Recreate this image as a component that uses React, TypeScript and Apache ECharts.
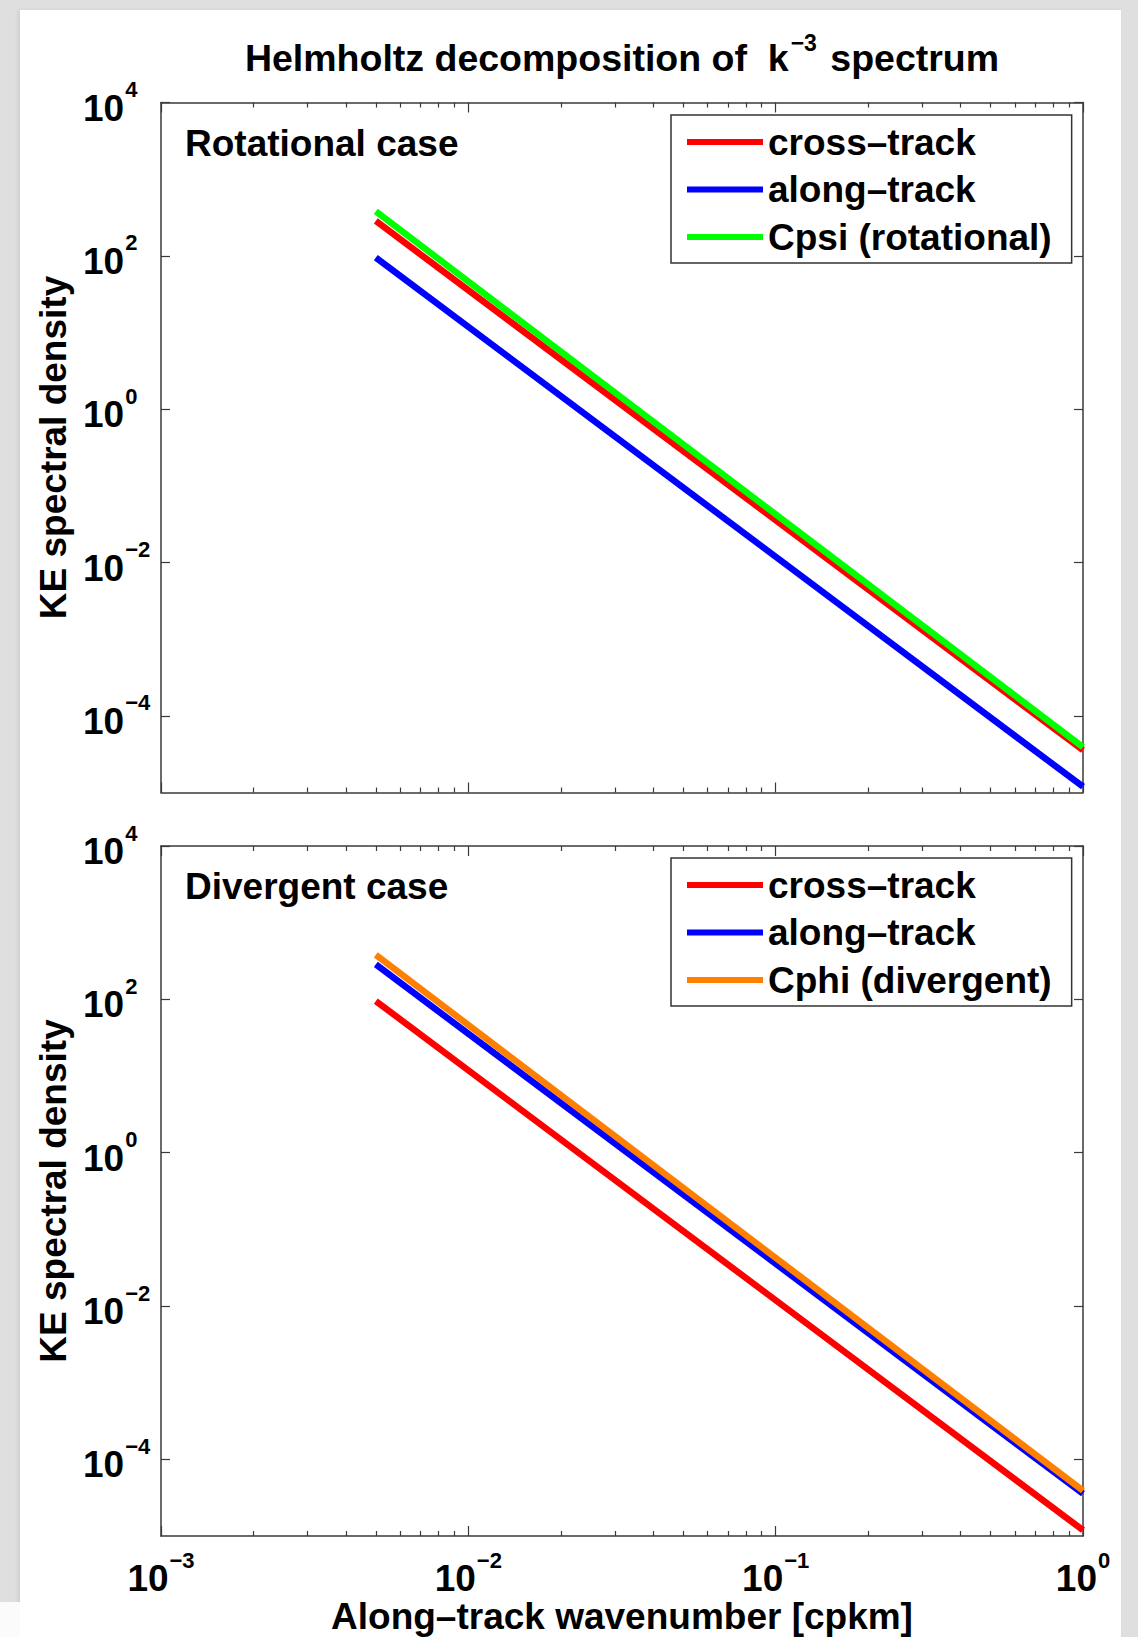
import React, { useEffect, useRef } from 'react';
import * as echarts from 'echarts';

// ---- data ----
const wavenumber = [0.005, 1];
const rotCrossTrack = [285, 3.56e-5];
const rotAlongTrack = [95, 1.19e-5];
const rotCpsi = [380, 3.9e-5];
const divCrossTrack = [95, 1.19e-5];
const divAlongTrack = [285, 3.56e-5];
const divCphi = [380, 3.9e-5];

const xMajorTicks = [0.001, 0.01, 0.1, 1];
const xMinorTicks = [
  0.002, 0.003, 0.004, 0.005, 0.006, 0.007, 0.008, 0.009,
  0.02, 0.03, 0.04, 0.05, 0.06, 0.07, 0.08, 0.09,
  0.2, 0.3, 0.4, 0.5, 0.6, 0.7, 0.8, 0.9,
];
const yMajorTicks = [1e-4, 1e-2, 1, 1e2, 1e4];

const rotLegend = ['cross–track', 'along–track', 'Cpsi (rotational)'];
const divLegend = ['cross–track', 'along–track', 'Cphi (divergent)'];

const FONT = '"Liberation Sans", Arial, Helvetica, sans-serif';
const AXIS = '#3a3a3a';

const supLabel = (v: number) => {
  const e = Math.round(Math.log10(v));
  return `{b|10}{s|${e < 0 ? '−' + -e : e}}`;
};

const labelRich = {
  b: { fontSize: 37, fontWeight: 'bold', fontFamily: FONT, lineHeight: 48, verticalAlign: 'bottom', color: '#000' },
  s: { fontSize: 22, fontWeight: 'bold', fontFamily: FONT, lineHeight: 22, verticalAlign: 'top', color: '#000', padding: [0, 0, 0, 1] },
};

const nameStyle = {
  fontSize: 37,
  fontWeight: 'bold',
  fontFamily: FONT,
  color: '#000',
  verticalAlign: 'middle',
  align: 'center',
};

function xAxisDef(gridIndex: number, position: string, ticks: number[], tickLen: number, showLine: boolean, labels: boolean, name?: string) {
  const ax: any = {
    type: 'log',
    logBase: 10,
    gridIndex,
    position,
    min: 0.001,
    max: 1,
    axisLine: { show: showLine, onZero: false, lineStyle: { color: AXIS, width: 1.5 } },
    axisTick: { show: true, inside: true, length: tickLen, customValues: ticks, lineStyle: { color: AXIS, width: 1.2 } },
    axisLabel: labels
      ? { show: true, customValues: ticks, formatter: supLabel, rich: labelRich, margin: 13 }
      : { show: false },
    splitLine: { show: false },
    minorTick: { show: false },
    minorSplitLine: { show: false },
  };
  if (name) {
    ax.name = name;
    ax.nameLocation = 'middle';
    ax.nameGap = 77;
    ax.nameTextStyle = nameStyle;
  }
  return ax;
}

function yAxisDef(gridIndex: number, position: string, labels: boolean, name?: string) {
  const ax: any = {
    type: 'log',
    logBase: 10,
    gridIndex,
    position,
    min: 1e-5,
    max: 1e4,
    axisLine: { show: true, onZero: false, lineStyle: { color: AXIS, width: 1.5 } },
    axisTick: { show: true, inside: true, length: 9, customValues: yMajorTicks, lineStyle: { color: AXIS, width: 1.2 } },
    axisLabel: labels
      ? { show: true, customValues: yMajorTicks, formatter: supLabel, rich: labelRich, margin: 78, align: 'left' }
      : { show: false },
    splitLine: { show: false },
    minorTick: { show: false },
    minorSplitLine: { show: false },
  };
  if (name) {
    ax.name = name;
    ax.nameLocation = 'middle';
    ax.nameGap = 107;
    ax.nameRotate = 90;
    ax.nameTextStyle = nameStyle;
  }
  return ax;
}

function lineSeries(name: string, values: number[], color: string, xAxisIndex: number, yAxisIndex: number) {
  return {
    type: 'line',
    name,
    xAxisIndex,
    yAxisIndex,
    data: wavenumber.map((k, i) => [k, values[i]]),
    symbol: 'none',
    color,
    lineStyle: { width: 6.5, color },
    itemStyle: { color },
  };
}

function legendDef(data: string[], top: number) {
  return {
    data,
    orient: 'vertical',
    left: 671,
    top,
    icon: 'rect',
    itemWidth: 76,
    itemHeight: 6,
    itemGap: 7.5,
    padding: [7, 20, 6, 16],
    borderColor: '#333',
    borderWidth: 1.5,
    borderRadius: 0,
    backgroundColor: '#fff',
    selectedMode: false,
    textStyle: { fontSize: 37, fontWeight: 'bold', fontFamily: FONT, color: '#000', lineHeight: 40 },
  };
}

export default function App() {
  const ref = useRef<HTMLDivElement>(null);

  useEffect(() => {
    if (!ref.current) return;
    const chart = echarts.init(ref.current, null, { renderer: 'svg' });
    const option: any = {
      animation: false,
      backgroundColor: 'transparent',
      grid: [
        { left: 161, top: 102.5, width: 922, height: 690, outerBoundsMode: 'none', containLabel: false },
        { left: 161, top: 846, width: 922, height: 690, outerBoundsMode: 'none', containLabel: false },
      ],
      xAxis: [
        xAxisDef(0, 'bottom', xMajorTicks, 10, true, false),
        xAxisDef(0, 'bottom', xMinorTicks, 5, false, false),
        xAxisDef(0, 'top', xMajorTicks, 10, true, false),
        xAxisDef(0, 'top', xMinorTicks, 5, false, false),
        xAxisDef(1, 'bottom', xMajorTicks, 10, true, true, 'Along–track wavenumber [cpkm]'),
        xAxisDef(1, 'bottom', xMinorTicks, 5, false, false),
        xAxisDef(1, 'top', xMajorTicks, 10, true, false),
        xAxisDef(1, 'top', xMinorTicks, 5, false, false),
      ],
      yAxis: [
        yAxisDef(0, 'left', true, 'KE spectral density'),
        yAxisDef(0, 'right', false),
        yAxisDef(1, 'left', true, 'KE spectral density'),
        yAxisDef(1, 'right', false),
      ],
      legend: [legendDef(rotLegend, 115), legendDef(divLegend, 858)],
      graphic: [
        {
          type: 'text',
          x: 622,
          y: 54,
          style: {
            text: '{t|Helmholtz decomposition of  k}{s|−3}{t| spectrum}',
            align: 'center',
            verticalAlign: 'middle',
            rich: {
              t: { fontSize: 37.5, fontWeight: 'bold', fontFamily: FONT, lineHeight: 46, verticalAlign: 'bottom', fill: '#000' },
              s: { fontSize: 23, fontWeight: 'bold', fontFamily: FONT, lineHeight: 22, verticalAlign: 'top', fill: '#000', padding: [0, 3, 0, 2] },
            },
          },
        },
        {
          type: 'text',
          x: 185,
          y: 143,
          style: { text: 'Rotational case', fontSize: 37, fontWeight: 'bold', fontFamily: FONT, fill: '#000', verticalAlign: 'middle' },
        },
        {
          type: 'text',
          x: 185,
          y: 886,
          style: { text: 'Divergent case', fontSize: 37, fontWeight: 'bold', fontFamily: FONT, fill: '#000', verticalAlign: 'middle' },
        },
      ],
      series: [
        lineSeries('cross–track', rotCrossTrack, '#ff0000', 0, 0),
        lineSeries('along–track', rotAlongTrack, '#0000ff', 0, 0),
        lineSeries('Cpsi (rotational)', rotCpsi, '#00ff00', 0, 0),
        lineSeries('cross–track', divCrossTrack, '#ff0000', 4, 2),
        lineSeries('along–track', divAlongTrack, '#0000ff', 4, 2),
        lineSeries('Cphi (divergent)', divCphi, '#ff8000', 4, 2),
      ],
    };
    chart.setOption(option);
    return () => chart.dispose();
  }, []);

  return (
    <div style={{ position: 'absolute', left: 0, top: 0, width: 1138, height: 1637, background: '#dfdfdf', overflow: 'hidden' }}>
      <div style={{ position: 'absolute', left: 20, top: 10, width: 1101, height: 1627, background: '#ffffff', boxShadow: '-2px 0 4px rgba(0,0,0,0.08)' }} />
      <div style={{ position: 'absolute', left: 0, top: 1602, width: 20, height: 35, background: '#fbfbfb' }} />
      <div ref={ref} style={{ position: 'absolute', left: 0, top: 0, width: 1138, height: 1637 }} />
    </div>
  );
}
